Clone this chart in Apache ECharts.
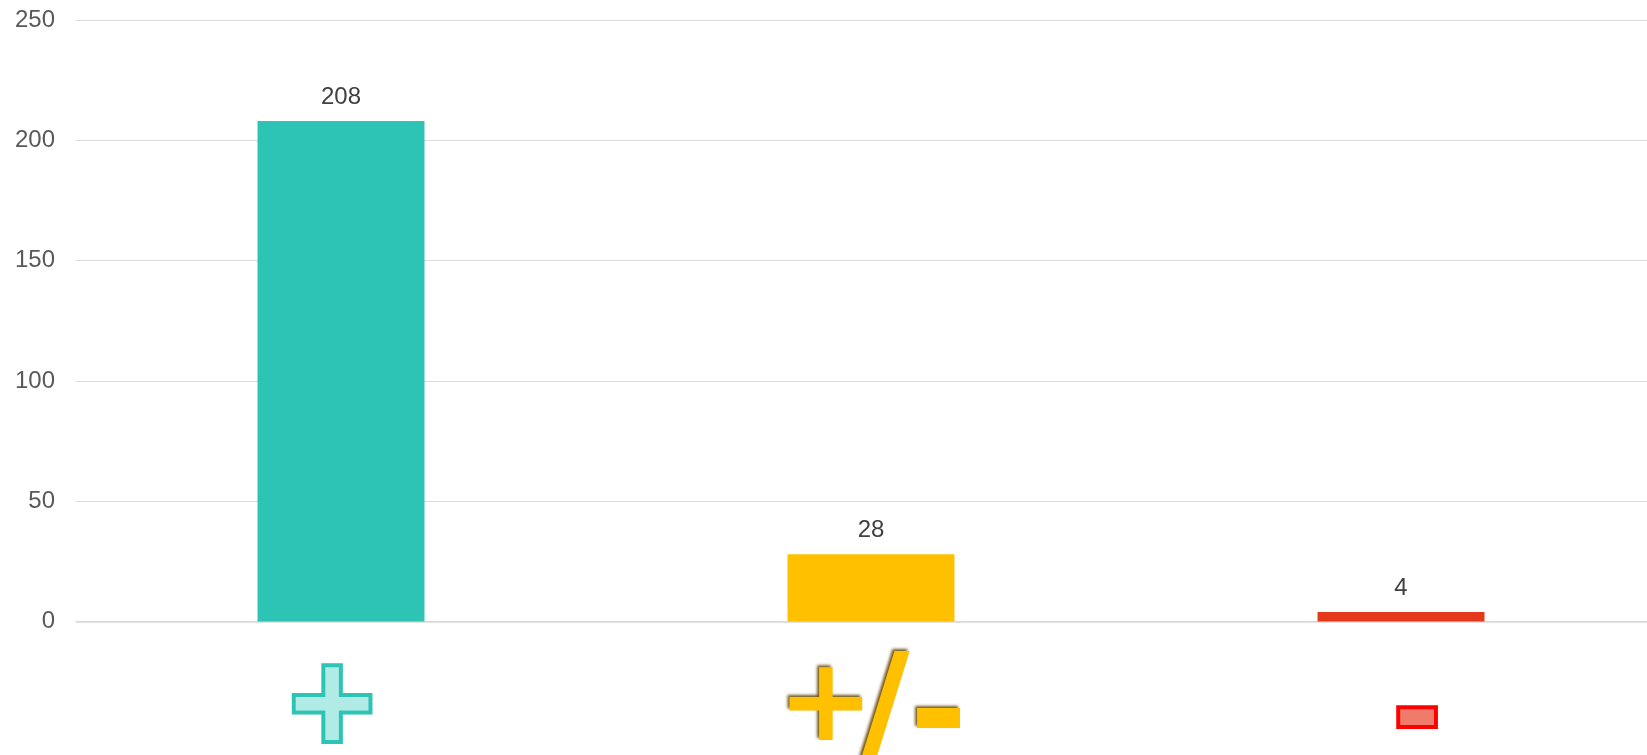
<!DOCTYPE html>
<html>
<head>
<meta charset="utf-8">
<title>chart</title>
<script src="https://cdn.jsdelivr.net/npm/echarts@6/dist/echarts.min.js"></script>
<style>
  html, body { margin: 0; padding: 0; background: #fff; }
  #chart { width: 1647px; height: 755px; }
</style>
</head>
<body>
<div id="chart"></div>
<script>
// data
const categories = ['+', '+/-', '-']
const counts = [208, 28, 4]
const barColors = ['#2DC4B5', '#FFC000', '#E4391A']
const yMin = 0
const yMax = 250
const yStep = 50

const iconFont = 'DejaVu Sans'
const iconLine = 116
const goldText = {
  fontFamily: iconFont,
  fontWeight: 'bold',
  lineHeight: iconLine,
  color: '#FFC000',
  textShadowColor: 'rgba(100, 70, 0, 0.9)',
  textShadowBlur: 3,
  textShadowOffsetX: -2,
  textShadowOffsetY: -2
}

// rich styles for the category labels
const labelStyles = {
  plus: {
    fontFamily: iconFont,
    fontWeight: 'bold',
    fontSize: 116,
    lineHeight: iconLine,
    color: '#B0EBE5',
    textBorderColor: '#2DC4B5',
    textBorderWidth: 8,
    padding: [0, 18, 0, 0]
  },
  gPlus: Object.assign({}, goldText, { fontSize: 116, padding: [0, -16, 0, 3] }),
  gSlash: Object.assign({}, goldText, { fontSize: 140, padding: [16, 0, 0, 0] }),
  gMinus: Object.assign({}, goldText, { fontSize: 140, padding: [27, 0, 0, 0] }),
  minus: {
    fontFamily: iconFont,
    fontWeight: 'bold',
    fontSize: 110,
    lineHeight: iconLine,
    color: '#F07B6B',
    textBorderColor: '#FF0000',
    textBorderWidth: 8,
    padding: [21, 0, 0, 32]
  }
}

const formatLabel = (value) => {
  if (value === '+/-') return '{gPlus|+}{gSlash|/}{gMinus|-}'
  if (value === '+') return '{plus|+}'
  return '{minus|-}'
}

const chart = echarts.init(document.getElementById('chart'))

const option = {
  animation: false,
  grid: {
    left: 76,
    right: -19,
    top: 20,
    bottom: 133.5,
    outerBoundsMode: 'none'
  },
  xAxis: {
    type: 'category',
    data: categories,
    axisLine: { lineStyle: { color: '#D9D9D9', width: 1.5 } },
    axisTick: { show: false },
    axisLabel: {
      margin: 30,
      interval: 0,
      formatter: formatLabel,
      rich: labelStyles
    }
  },
  yAxis: {
    type: 'value',
    min: yMin,
    max: yMax,
    interval: yStep,
    axisLine: { show: false },
    axisTick: { show: false },
    axisLabel: {
      margin: 21,
      fontFamily: 'Liberation Sans, Arial, sans-serif',
      fontSize: 24,
      color: '#595959'
    },
    splitLine: { lineStyle: { color: '#D9D9D9', width: 1 } }
  },
  series: [
    {
      type: 'bar',
      barWidth: '31.5%',
      data: counts.map((v, i) => ({ value: v, itemStyle: { color: barColors[i] } })),
      label: {
        show: true,
        position: 'top',
        distance: 12,
        fontFamily: 'Liberation Sans, Arial, sans-serif',
        fontSize: 24,
        color: '#404040'
      }
    }
  ]
}

chart.setOption(option)
</script>
</body>
</html>
